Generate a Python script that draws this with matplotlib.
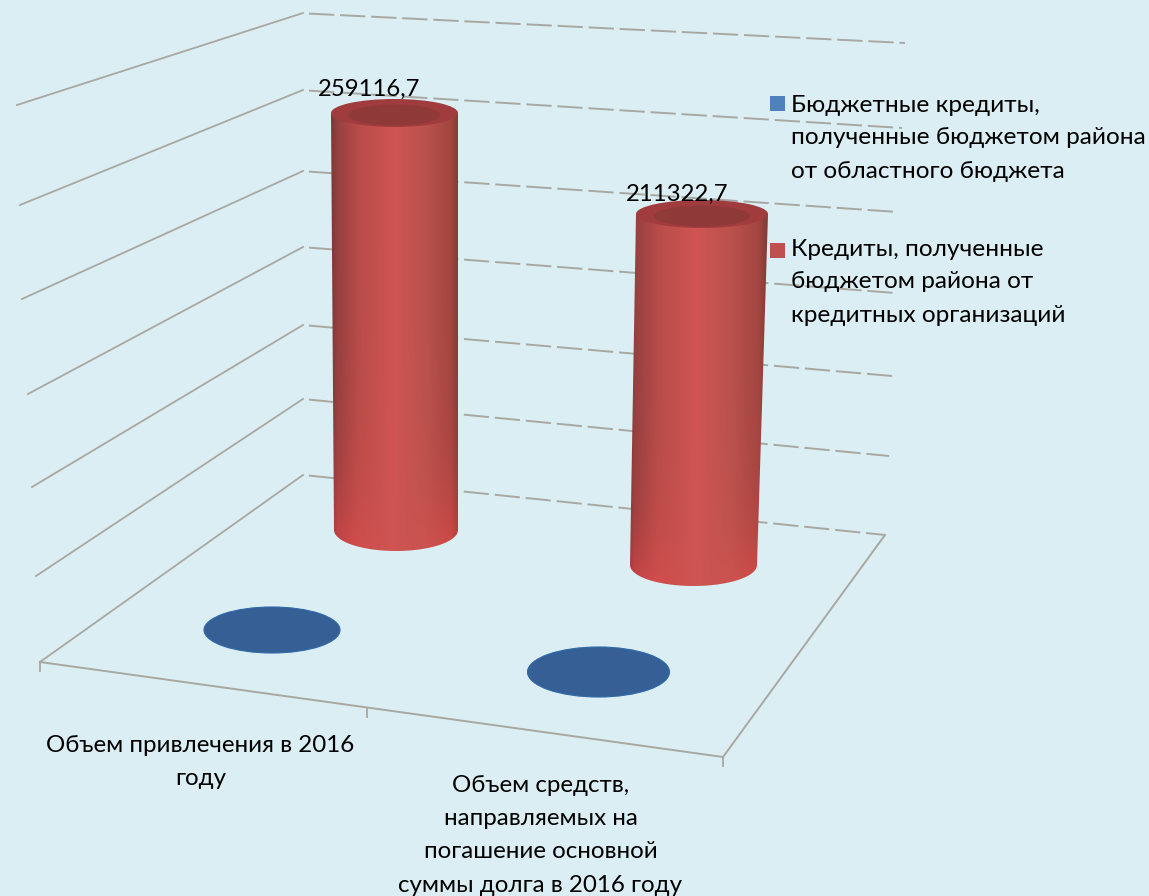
#!/usr/bin/env python3
"""3D-style cylinder chart: budget credits of the district, 2016."""

import numpy as np
import matplotlib
matplotlib.use("Agg")
import matplotlib.pyplot as plt
from matplotlib.colors import LinearSegmentedColormap
from matplotlib.patches import Ellipse, PathPatch, Rectangle
from matplotlib.path import Path

# ============================================================
# Data
# ============================================================

categories = [
    ["Объем привлечения в 2016", "году"],
    ["Объем средств,", "направляемых на", "погашение основной", "суммы долга в 2016 году"],
]
series_names = [
    ["Бюджетные кредиты,", "полученные бюджетом района", "от областного бюджета"],
    ["Кредиты, полученные", "бюджетом района от", "кредитных организаций"],
]
blue_values = [0.0, 0.0]
red_values = [259116.7, 211322.7]
red_labels = ["259116,7", "211322,7"]

# ============================================================
# Layout (pixels of the picture, the fake 3D frame)
# ============================================================

BG = "#dbeef4"
GRID = "#a8a8a2"
plt.rcParams["font.family"] = ["Lato", "Open Sans", "DejaVu Sans"]

back_x = 303
left_ends = [(17, 105), (20, 205), (22, 299), (28, 394), (32, 487), (36, 576), (40, 662)]
back_ys = [13, 90, 171, 247, 325, 399, 475]
right_ends = [(905, 43), (902, 128), (898, 212), (895, 293), (892, 376), (889, 456), (885, 535)]

# one cylinder per category: centre of base, px per unit, radii
red_base = [(396, 530, 62, 21), (693.5, 565, 63.5, 21)]
red_top_x = [(394.5, 63.5, 14), (702, 66, 14)]
red_scale = [417 / 259116.7, 351 / 211322.7]
label_pos = [(369, 89), (677.5, 194)]
blue_base = [(272, 630, 68, 23), (598.5, 672, 71, 25)]

side_cmap = LinearSegmentedColormap.from_list(
    "side",
    [(0.0, "#733634"), (0.06, "#964040"), (0.22, "#b84c49"), (0.48, "#cf5553"),
     (0.72, "#bb524d"), (0.92, "#a34541"), (1.0, "#703b31")],
)

fig = plt.figure(figsize=(11.49, 8.96), dpi=100, facecolor=BG)
ax = fig.add_axes([0, 0, 1, 1])
ax.set_xlim(0, 1149)
ax.set_ylim(896, 0)
ax.axis("off")

# ============================================================
# Walls and floor
# ============================================================

for (lx, ly), by, (rx, ry) in zip(left_ends, back_ys, right_ends):
    ax.plot([lx, back_x], [ly, by], color=GRID, lw=1.3, zorder=1)
    ax.plot([back_x + 6, rx], [by + 0.6, ry], color=GRID, lw=1.4, zorder=1,
            dashes=(13, 3))

floor_x = [40, 723, 885]
floor_y = [662, 757, 535]
ax.plot(floor_x, floor_y, color=GRID, lw=1.4, zorder=1)
for tx, ty in [(40, 662), (367, 708), (723, 757)]:
    ax.plot([tx, tx], [ty, ty + 9], color=GRID, lw=1.3, zorder=1)

# ============================================================
# Cylinders
# ============================================================

for (x, y, a, b), v in zip(blue_base, blue_values):
    ax.add_patch(Ellipse((x, y - v), 2 * a, 2 * b, fc="#365f96", ec="#2f6aa8", lw=0.8, zorder=3))

for (bx, by, ba, bb), (tx, ta, tb), s, v, lab, (lx, ly) in zip(
        red_base, red_top_x, red_scale, red_values, red_labels, label_pos):
    ty = by - v * s
    t = np.linspace(0, np.pi, 60)
    # side outline: down the left edge, round the front of the base, up the right
    low = np.column_stack([bx - ba * np.cos(t), by + bb * np.sin(t)])
    verts = np.vstack([[tx - ta, ty], low, [tx + ta, ty], [tx - ta, ty]])
    codes = [Path.MOVETO] + [Path.LINETO] * (len(verts) - 2) + [Path.CLOSEPOLY]
    clip = PathPatch(Path(verts, codes), fc="none", ec="none", transform=ax.transData)
    ax.add_patch(clip)

    xs = np.linspace(0, 1, 200)
    shade = side_cmap(xs)[None, :, :3].repeat(120, axis=0)
    # the sides get a bit redder near the base
    fade = np.linspace(0, 1, 120)[:, None, None] ** 6
    edge = (np.abs(xs - 0.5) * 2)[None, :, None] ** 1.5
    shade = np.clip(shade + fade * edge * np.array([0.25, 0.02, 0.03]), 0, 1)
    im = ax.imshow(shade, extent=(min(tx, bx) - ta - 2, max(tx, bx) + ta + 2, by + bb, ty),
                   aspect="auto", zorder=4, interpolation="bilinear")
    im.set_clip_path(clip)

    ax.add_patch(Ellipse((tx, ty), 2 * ta, 2 * tb, fc="#a03c3d", ec="none", zorder=5))
    ax.add_patch(Ellipse((tx, ty + 2), 1.45 * ta, 1.5 * tb, fc="#8f3a39", ec="none", zorder=5))
    ax.text(lx, ly, lab, fontsize=17.2, color="black", ha="center", va="center", zorder=7)

ax.set_xlim(0, 1149)
ax.set_ylim(896, 0)

# ============================================================
# Category labels and legend
# ============================================================

cat_pos = [(200.5, 745), (540.5, 785)]
for lines, (cx, cy) in zip(categories, cat_pos):
    for i, line in enumerate(lines):
        ax.text(cx, cy + i * 33.5, line, fontsize=17.4, ha="center", va="center", zorder=7)

swatch_y = [96, 243]
line_y = [105, 249]
for lines, sy, ly, col in zip(series_names, swatch_y, line_y, ["#4f81bd", "#c0504d"]):
    ax.add_patch(Rectangle((770, sy), 15, 15, fc=col, ec="none", zorder=7))
    for i, line in enumerate(lines):
        ax.text(791, ly + i * 33, line, fontsize=17.6, ha="left", va="center", zorder=7)

fig.savefig("out.png", dpi=100, facecolor=BG)
